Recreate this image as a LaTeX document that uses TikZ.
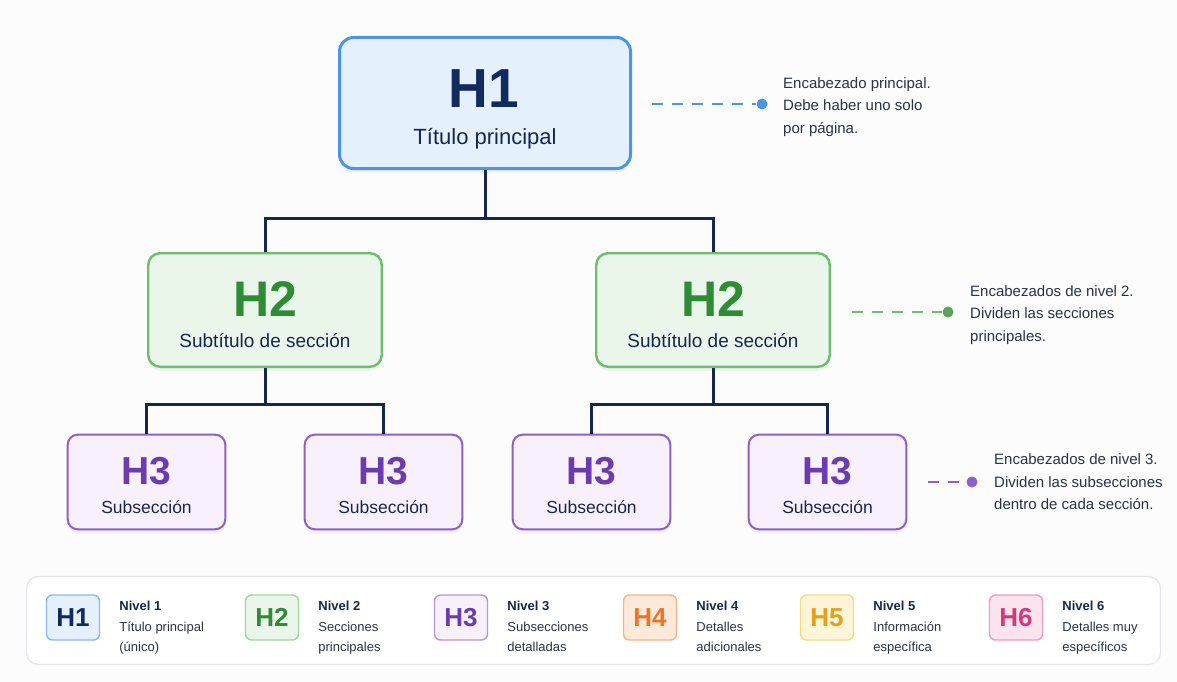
\documentclass[tikz,border=0pt]{standalone}
\usepackage{fontspec}
\setmainfont{Liberation Sans}
\usepackage{tikz}
\usetikzlibrary{positioning,shadows}
\definecolor{paper}{HTML}{FCFCFD}
\definecolor{ink}{HTML}{2A3246}
\definecolor{navy}{HTML}{17264F}
\definecolor{frame}{HTML}{E3E6EB}
\definecolor{lineH1}{HTML}{4A95EA}\definecolor{fillH1}{HTML}{E4F0FC}\definecolor{textH1}{HTML}{122B5E}
\definecolor{lineH2}{HTML}{6CBE6C}\definecolor{fillH2}{HTML}{EBF6EA}\definecolor{textH2}{HTML}{2E8B36}
\definecolor{lineH3}{HTML}{8F5FC9}\definecolor{fillH3}{HTML}{F8F1FD}\definecolor{textH3}{HTML}{6A3CB0}
\definecolor{lineH4}{HTML}{F08A45}\definecolor{fillH4}{HTML}{FDE9DA}\definecolor{textH4}{HTML}{EC7424}
\definecolor{lineH5}{HTML}{F1C638}\definecolor{fillH5}{HTML}{FEF5D8}\definecolor{textH5}{HTML}{E3A01A}
\definecolor{lineH6}{HTML}{E4699F}\definecolor{fillH6}{HTML}{FCE4EF}\definecolor{textH6}{HTML}{D13A7C}
\newcommand{\fsz}[2]{\fontsize{#1}{#2}\selectfont}

\begin{document}
\begin{tikzpicture}[x=1pt,y=-1pt,
  lvlbox/.style={rounded corners=#1,inner sep=0pt,drop shadow={opacity=0.09,shadow xshift=0pt,shadow yshift=-4pt}},
  tree/.style={navy,line width=3pt},
  guide/.style={line width=2pt,dash pattern=on 11pt off 9pt},
  dot/.style={circle,inner sep=0pt,minimum size=11pt},
  note/.style={anchor=west,align=left,inner sep=0pt,text=ink,font=\fsz{15}{22.5}},
  badge/.style={rounded corners=6pt,line width=1.4pt,minimum width=53pt,minimum height=45pt,inner sep=0pt,font=\fsz{26}{26}\bfseries},
  legtext/.style={below right=7pt and 19pt of #1.north east,align=left,inner sep=0pt,text=ink,font=\fsz{13}{20.5}}]
  \fill[paper] (0,0) rectangle (1177,682);
  % main tree
  \node[lvlbox=14pt,draw=lineH1,fill=fillH1,line width=3pt,minimum width=291pt,minimum height=131pt] (h1) at (485,103) {};
  \node[anchor=base,text=textH1,font=\fsz{55}{55}\bfseries] (h1tag) at (484,107) {H1};
  \node[anchor=base,text=navy,font=\fsz{22}{22}] (h1txt) at (485,144) {Título principal};
  \foreach \s/\cx in {a/265,b/713}{
    \node[lvlbox=12pt,draw=lineH2,fill=fillH2,line width=2.4pt,minimum width=233.6pt,minimum height=113.6pt] (h2\s) at (\cx,310) {};
    \node[anchor=base,text=textH2,font=\fsz{50}{50}\bfseries] (h2tag\s) at (\cx,316) {H2};
    \node[anchor=base,text=navy,font=\fsz{19}{19}] (h2txt\s) at (\cx,347) {Subtítulo de sección};
  }
  \foreach \s/\cx in {a/146.5,b/383.5,c/591.5,d/827.5}{
    \node[lvlbox=10pt,draw=lineH3,fill=fillH3,line width=2pt,minimum width=157.6pt,minimum height=94.6pt] (h3\s) at (\cx,482) {};
    \node[anchor=base,text=textH3,font=\fsz{39}{39}\bfseries] (h3tag\s) at (\cx,484) {H3};
    \node[anchor=base,text=navy,font=\fsz{17.5}{17.5}] (h3txt\s) at (\cx,513) {Subsección};
  }
  \draw[tree] (h1.south) -- ++(0,48) -| (h2a.north);
  \draw[tree] (h1.south) -- ++(0,48) -| (h2b.north);
  \draw[tree] (h2a.south) -- ++(0,36) -| (h3a.north);
  \draw[tree] (h2a.south) -- ++(0,36) -| (h3b.north);
  \draw[tree] (h2b.south) -- ++(0,36) -| (h3c.north);
  \draw[tree] (h2b.south) -- ++(0,36) -| (h3d.north);
  % side notes
  \coordinate (g1) at (652,104);
  \node[dot,fill=lineH1] (d1) at (762,104) {};
  \draw[guide,lineH1] (g1) -- (d1);
  \node[note] (n1) at (783,107) {Encabezado principal.\\Debe haber uno solo\\por página.};
  \coordinate (g2) at (852,312);
  \node[dot,fill=lineH2!85!black] (d2) at (948,312) {};
  \draw[guide,lineH2] (g2) -- (d2);
  \node[note] (n2) at (970,315) {Encabezados de nivel 2.\\Dividen las secciones\\principales.};
  \coordinate (g3) at (928,482);
  \node[dot,fill=lineH3] (d3) at (972,482) {};
  \draw[guide,lineH3] (g3) -- (d3);
  \node[note] (n3) at (994,482) {Encabezados de nivel 3.\\Dividen las subsecciones\\dentro de cada sección.};
  % legend
  \node[draw=frame,fill=white,line width=1.2pt,rounded corners=12pt,minimum width=1134pt,minimum height=88pt] (legend) at (593.5,620.5) {};
  \foreach \n/\cx/\la/\lb in {1/73/Título principal/(único),2/272/Secciones/principales,3/461/Subsecciones/detalladas,4/650/Detalles/adicionales,5/827/Información/específica,6/1016/Detalles muy/específicos}{
    \node[badge,draw=lineH\n!65!white,fill=fillH\n,text=textH\n] (b\n) at (\cx,617.5) {H\n};
    \node[legtext=b\n] (t\n) {\textcolor{navy}{\bfseries Nivel \n}\\\la\\\lb};
  }
\end{tikzpicture}
\end{document}
